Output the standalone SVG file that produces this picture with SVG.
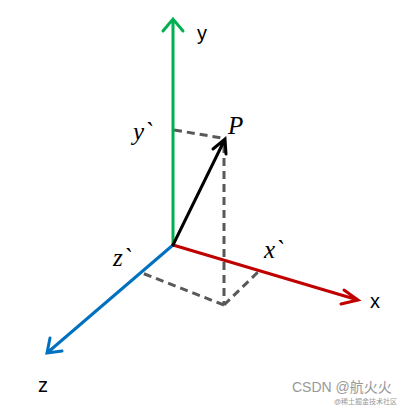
<svg xmlns="http://www.w3.org/2000/svg" width="407" height="405" viewBox="0 0 407 405">
<style>
.ax{stroke-width:3;fill:none;stroke-linecap:round}
.dash{stroke:#595959;stroke-width:3;fill:none;stroke-dasharray:8 5}
.lbl{font-family:"Liberation Sans",Arial,sans-serif;font-size:20px;fill:#000}
.it{font-family:"Liberation Serif","Times New Roman",serif;font-style:italic;font-size:25px;fill:#000}
.wm{font-family:"Liberation Sans","Noto Sans CJK SC",sans-serif;fill:#999}
</style>
<rect width="407" height="405" fill="#fff"/>
<g id="connectors">
<path class="dash" d="M174,130 L222,138"/>
<path class="dash" d="M224,145 L224,305"/>
<path class="dash" d="M224,305 L258,272"/>
<path class="dash" d="M224,305 L142,273"/>
<g id="y-axis"><path class="ax" stroke="#00B050" d="M173,245 L173,19 M163,31 L173,19 L183,31"/></g>
<g id="x-axis"><path class="ax" stroke="#C00000" d="M173,245 L358,300 M344,290 L358,300 L341,304"/></g>
<g id="z-axis"><path class="ax" stroke="#0070C0" d="M173,245 L47,353 M50,338 L47,353 L62,351"/></g>
<g id="p-vector"><path class="ax" stroke="#000" d="M173,245 L225,139 M213,149 L225,139 L226,154"/></g>
</g>
<g id="labels">
<text class="lbl" x="197" y="40">y</text>
<text class="lbl" x="370" y="308">x</text>
<text class="lbl" x="38" y="392">z</text>
<text class="it" x="133" y="140">y`</text>
<text class="it" x="228" y="134">P</text>
<text class="it" x="113" y="266">z`</text>
<text class="it" x="264" y="258">x`</text>
</g>
<g id="watermark">
<text class="wm" x="292" y="392" font-size="14">CSDN @航火火</text>
<text class="wm" x="334" y="404" font-size="7" fill="#bbb">@稀土掘金技术社区</text>
</g>
</svg>
